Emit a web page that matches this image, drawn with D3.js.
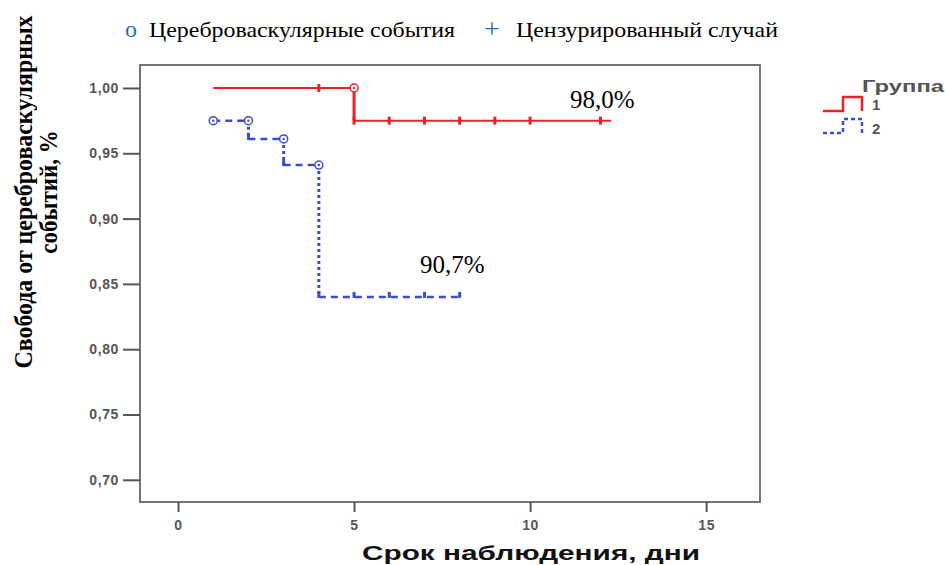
<!DOCTYPE html>
<html>
<head>
<meta charset="utf-8">
<script src="https://cdn.jsdelivr.net/npm/d3@7"></script>
<style>
  body { margin: 0; background: #fff; }
  svg { display: block; }
</style>
</head>
<body>
<div id="chart"></div>
<script>
// ---- data ----
var xTicks = [0, 5, 10, 15];
var yTicks = [0.70, 0.75, 0.80, 0.85, 0.90, 0.95, 1.00];

// group 1: step curve (time, survival after step)
var g1Times = [1, 5];
var g1Surv = [1.00, 0.975];
var g1End = 12.3;
var g1Events = [5];
var g1Censored = [4, 5, 6, 7, 8, 9, 10, 12];

// group 2
var g2Times = [1, 2, 3, 4];
var g2Surv = [0.975, 0.961, 0.941, 0.840];
var g2End = 8;
var g2Events = [1, 2, 3, 4];
var g2Censored = [2, 3, 4, 5, 6, 7, 8];

var labels = ["98,0%", "90,7%"];

function agentChart() {
    var width = 945, height = 565;
    var plot = { left: 140, right: 760, top: 65, bottom: 502 };

    var svg = d3.select("#chart").append("svg")
        .attr("width", width)
        .attr("height", height);

    var x = d3.scaleLinear().domain([-1.08, 16.53]).range([plot.left, plot.right]);
    var y = d3.scaleLinear().domain([0.683, 1.0176]).range([plot.bottom, plot.top]);

    var red = "#ec2127", blue = "#3b4bd4";
    var sans = "Liberation Sans, Arial, sans-serif";
    var serif = "Liberation Serif, Times New Roman, serif";

    //frame
    svg.append("rect")
        .attr("x", plot.left).attr("y", plot.top)
        .attr("width", plot.right - plot.left)
        .attr("height", plot.bottom - plot.top)
        .attr("fill", "none")
        .attr("stroke", "#757575")
        .attr("stroke-width", 2);

    //axes
    var fmt = function(d) { return d3.format(".2f")(d).replace(".", ","); };
    var yAxis = svg.append("g")
        .attr("transform", "translate(" + plot.left + ",0)")
        .call(d3.axisLeft(y).tickValues(yTicks).tickFormat(fmt).tickSize(17).tickPadding(4));
    var xAxis = svg.append("g")
        .attr("transform", "translate(0," + plot.bottom + ")")
        .call(d3.axisBottom(x).tickValues(xTicks).tickSize(10).tickPadding(8));
    [yAxis, xAxis].forEach(function(a) {
        a.select(".domain").remove();
        a.selectAll(".tick line").attr("stroke", "#555").attr("stroke-width", 2);
        a.selectAll(".tick text")
            .attr("fill", "#555")
            .style("font-family", sans)
            .style("font-size", "14px")
            .style("font-weight", "bold")
            .style("letter-spacing", "0.6px");
    });

    //step segments built from the data
    function segments(times, surv, end) {
        var h = [], v = [];
        for (var i = 0; i < times.length; i++) {
            var t1 = (i + 1 < times.length) ? times[i + 1] : end;
            h.push([[times[i], surv[i]], [t1, surv[i]]]);
            if (i + 1 < times.length) v.push([[t1, surv[i]], [t1, surv[i + 1]]]);
        }
        return { h: h, v: v };
    }
    function levelBefore(times, surv, t) {
        if (t <= times[0]) return surv[0];
        var s = surv[0];
        for (var i = 0; i < times.length; i++) if (times[i] < t) s = surv[i];
        return s;
    }
    function levelAt(times, surv, t) {
        var s = surv[0];
        for (var i = 0; i < times.length; i++) if (times[i] <= t) s = surv[i];
        return s;
    }
    var line = d3.line().x(function(d) { return x(d[0]); }).y(function(d) { return y(d[1]); });

    var s1 = segments(g1Times, g1Surv, g1End);
    var s2 = segments(g2Times, g2Surv, g2End);

    svg.selectAll(".g1h").data(s1.h).enter().append("path")
        .attr("d", line).attr("fill", "none").attr("stroke", red).attr("stroke-width", 2);
    svg.selectAll(".g1v").data(s1.v).enter().append("path")
        .attr("d", line).attr("fill", "none").attr("stroke", red).attr("stroke-width", 3);

    svg.selectAll(".g2h").data(s2.h).enter().append("path")
        .attr("d", line).attr("fill", "none").attr("stroke", blue)
        .attr("stroke-width", 2.5).attr("stroke-dasharray", "7,5");
    svg.selectAll(".g2v").data(s2.v).enter().append("path")
        .attr("d", line).attr("fill", "none").attr("stroke", blue)
        .attr("stroke-width", 3).attr("stroke-dasharray", "3,3");

    //censor ticks
    svg.selectAll(".c1").data(g1Censored).enter().append("line")
        .attr("x1", function(d) { return x(d); }).attr("x2", function(d) { return x(d); })
        .attr("y1", function(d) { return y(levelAt(g1Times, g1Surv, d)) - 4; })
        .attr("y2", function(d) { return y(levelAt(g1Times, g1Surv, d)) + 4; })
        .attr("stroke", red).attr("stroke-width", 3);
    svg.selectAll(".c2").data(g2Censored).enter().append("line")
        .attr("x1", function(d) { return x(d); }).attr("x2", function(d) { return x(d); })
        .attr("y1", function(d) { return y(levelAt(g2Times, g2Surv, d)) - 5; })
        .attr("y2", function(d) { return y(levelAt(g2Times, g2Surv, d)) + 1; })
        .attr("stroke", blue).attr("stroke-width", 3);

    //event circles (open circle with a dot)
    function events(cls, list, times, surv, col) {
        svg.selectAll("." + cls).data(list).enter().append("circle")
            .attr("cx", function(d) { return x(d); })
            .attr("cy", function(d) { return y(levelBefore(times, surv, d)); })
            .attr("r", 4).attr("fill", "#fff").attr("stroke", col).attr("stroke-width", 1.5);
        svg.selectAll("." + cls + "dot").data(list).enter().append("circle")
            .attr("cx", function(d) { return x(d); })
            .attr("cy", function(d) { return y(levelBefore(times, surv, d)); })
            .attr("r", 1.2).attr("fill", col);
    }
    events("e1", g1Events, g1Times, g1Surv, red);
    events("e2", g2Events, g2Times, g2Surv, blue);

    //value labels
    svg.append("text").attr("x", 570).attr("y", 108).text(labels[0])
        .style("font-family", serif).style("font-size", "25px");
    svg.append("text").attr("x", 420).attr("y", 273).text(labels[1])
        .style("font-family", serif).style("font-size", "25px");

    //top legend
    svg.append("text").attr("x", 125).attr("y", 37).text("o")
        .attr("fill", "#1f6fc4").style("font-family", serif).style("font-size", "24px");
    svg.append("text").attr("x", 149).attr("y", 37).text("Цереброваскулярные события")
        .attr("textLength", 306).attr("lengthAdjust", "spacingAndGlyphs")
        .style("font-family", serif).style("font-size", "22px");
    svg.append("text").attr("x", 484).attr("y", 38).text("+")
        .attr("fill", "#1f6fc4").style("font-family", serif).style("font-size", "28px");
    svg.append("text").attr("x", 516).attr("y", 37).text("Цензурированный случай")
        .attr("textLength", 262).attr("lengthAdjust", "spacingAndGlyphs")
        .style("font-family", serif).style("font-size", "22px");

    //axis titles
    var yt = svg.append("text")
        .attr("transform", "scale(1.1,1) translate(0,192) rotate(-90)")
        .attr("text-anchor", "middle")
        .style("font-family", serif).style("font-size", "23px").style("font-weight", "bold");
    yt.append("tspan").attr("x", 0).attr("y", 29.5)
        .attr("textLength", 353).attr("lengthAdjust", "spacingAndGlyphs")
        .text("Свобода от цереброваскулярных");
    yt.append("tspan").attr("x", 0).attr("y", 51.5).text("событий, %");

    svg.append("text").attr("x", 531).attr("y", 560)
        .attr("text-anchor", "middle")
        .attr("textLength", 338).attr("lengthAdjust", "spacingAndGlyphs")
        .text("Срок наблюдения, дни")
        .style("font-family", sans)
        .style("font-size", "20px").style("font-weight", "bold").attr("fill", "#111");

    //right legend
    var lg = svg.append("g");
    lg.append("text").attr("x", 862).attr("y", 92).text("Группа")
        .attr("textLength", 82).attr("lengthAdjust", "spacingAndGlyphs")
        .attr("fill", "#555")
        .style("font-family", sans)
        .style("font-size", "16px").style("font-weight", "bold");
    lg.append("path")
        .attr("d", "M823,111 H843 V97 H862 V111")
        .attr("fill", "none").attr("stroke", red).attr("stroke-width", 2.5);
    lg.append("path")
        .attr("d", "M823,133 H843 V119 H862 V133")
        .attr("fill", "none").attr("stroke", blue).attr("stroke-width", 2.5)
        .attr("stroke-dasharray", "4,3");
    [["1", 110], ["2", 134]].forEach(function(d) {
        lg.append("text").attr("x", 872).attr("y", d[1]).text(d[0])
            .attr("fill", "#555")
            .style("font-family", sans)
            .style("font-size", "15px").style("font-weight", "bold");
    });
}
agentChart();
</script>
</body>
</html>
